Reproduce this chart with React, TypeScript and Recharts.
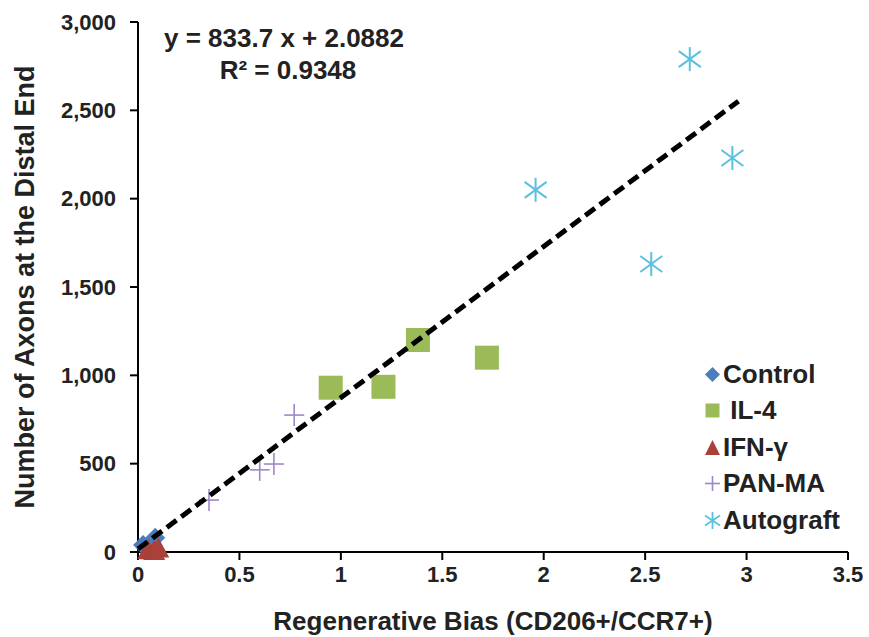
import { ScatterChart, Scatter, XAxis, YAxis } from 'recharts';

const xTicks = [0, 0.5, 1, 1.5, 2, 2.5, 3, 3.5];
const yTicks = [0, 500, 1000, 1500, 2000, 2500, 3000];

const control = [
    { x: 0.025, y: 40 },
    { x: 0.085, y: 80 },
];
const il4 = [
    { x: 0.95, y: 930 },
    { x: 1.21, y: 935 },
    { x: 1.38, y: 1200 },
    { x: 1.72, y: 1100 },
];
const ifng = [
    { x: 0.05, y: 10 },
    { x: 0.08, y: 5 },
    { x: 0.1, y: 20 },
];
const panma = [
    { x: 0.35, y: 294 },
    { x: 0.6, y: 465 },
    { x: 0.67, y: 498 },
    { x: 0.77, y: 775 },
];
const autograft = [
    { x: 1.96, y: 2050 },
    { x: 2.53, y: 1630 },
    { x: 2.72, y: 2790 },
    { x: 2.93, y: 2230 },
];
// trendline end points
const trend = [
    { x: 0, y: 17 },
    { x: 2.96, y: 2552 },
];

const FONT = '"Liberation Sans", Arial, sans-serif';
const TEXT = '#222';

const BLUE = '#4A7EBB';
const GREEN = '#9BBB59';
const RED = '#A9403A';
const PURPLE = '#9F86C9';
const AQUA = '#5BC0DE';

const Diamond = (p: any) => (
    <polygon
        points={`${p.cx},${p.cy - 10} ${p.cx + 10},${p.cy} ${p.cx},${p.cy + 10} ${p.cx - 10},${p.cy}`}
        fill={BLUE}
    />
);
const Square = (p: any) => <rect x={p.cx - 12} y={p.cy - 12} width={24} height={24} fill={GREEN} />;
const Triangle = (p: any) => (
    <polygon points={`${p.cx},${p.cy - 11} ${p.cx + 11},${p.cy + 9} ${p.cx - 11},${p.cy + 9}`} fill={RED} />
);
const Plus = (p: any) => (
    <g stroke={PURPLE} strokeWidth={1.6}>
        <line x1={p.cx - 10} y1={p.cy} x2={p.cx + 10} y2={p.cy} />
        <line x1={p.cx} y1={p.cy - 11} x2={p.cx} y2={p.cy + 11} />
    </g>
);
const Star = (p: any) => (
    <g stroke={AQUA} strokeWidth={2}>
        <line x1={p.cx} y1={p.cy - 12} x2={p.cx} y2={p.cy + 12} />
        <line x1={p.cx - 11} y1={p.cy - 8} x2={p.cx + 11} y2={p.cy + 8} />
        <line x1={p.cx - 11} y1={p.cy + 8} x2={p.cx + 11} y2={p.cy - 8} />
    </g>
);

const legendItems = [
    { name: 'Control', icon: <polygon points="8.5,1 16,8.5 8.5,16 1,8.5" fill={BLUE} /> },
    { name: '\u00a0IL-4', icon: <rect x={1.5} y={1.5} width={14} height={14} fill={GREEN} /> },
    { name: 'IFN-γ', icon: <polygon points="8.5,1 16,16 1,16" fill={RED} /> },
    {
        name: 'PAN-MA',
        icon: (
            <g stroke={PURPLE} strokeWidth={1.6}>
                <line x1={1} y1={8.5} x2={16} y2={8.5} />
                <line x1={8.5} y1={1} x2={8.5} y2={16} />
            </g>
        ),
    },
    {
        name: 'Autograft',
        icon: (
            <g stroke={AQUA} strokeWidth={1.8}>
                <line x1={8.5} y1={0} x2={8.5} y2={17} />
                <line x1={1} y1={3.5} x2={16} y2={13.5} />
                <line x1={1} y1={13.5} x2={16} y2={3.5} />
            </g>
        ),
    },
];

export default function App() {
    return (
        <div style={{ position: 'absolute', left: 0, top: 0, width: 869, height: 637, background: '#fff' }}>
            <ScatterChart width={869} height={637} margin={{ top: 22, right: 21, left: 0, bottom: 0 }}>
                <XAxis
                    type="number"
                    dataKey="x"
                    domain={[0, 3.5]}
                    ticks={xTicks}
                    height={85}
                    stroke="#000"
                    strokeWidth={2}
                    tickSize={8}
                    tickMargin={6}
                    tick={{ fill: TEXT, fontSize: 22, fontWeight: 'bold', fontFamily: FONT }}
                />
                <YAxis
                    type="number"
                    dataKey="y"
                    domain={[0, 3000]}
                    ticks={yTicks}
                    width={138}
                    stroke="#000"
                    strokeWidth={2}
                    tickSize={8}
                    tickMargin={14}
                    tickFormatter={(v) => v.toLocaleString('en-US')}
                    tick={{ fill: TEXT, fontSize: 22, fontWeight: 'bold', fontFamily: FONT }}
                />
                <Scatter data={control} shape={Diamond} isAnimationActive={false} />
                <Scatter data={il4} shape={Square} isAnimationActive={false} />
                <Scatter data={ifng} shape={Triangle} isAnimationActive={false} />
                <Scatter data={panma} shape={Plus} isAnimationActive={false} />
                <Scatter data={autograft} shape={Star} isAnimationActive={false} />
                <Scatter
                    data={trend}
                    line={{ stroke: '#000', strokeWidth: 5, strokeDasharray: '12 6' }}
                    shape={() => <g />}
                    isAnimationActive={false}
                />
                <text
                    x={25}
                    y={287}
                    transform="rotate(-90 25 287)"
                    textAnchor="middle"
                    dominantBaseline="central"
                    fill={TEXT}
                    fontSize={27}
                    fontWeight="bold"
                    fontFamily={FONT}
                >
                    Number of Axons at the Distal End
                </text>
                <text
                    x={493}
                    y={621}
                    textAnchor="middle"
                    dominantBaseline="central"
                    fill={TEXT}
                    fontSize={26}
                    fontWeight="bold"
                    fontFamily={FONT}
                >
                    Regenerative Bias (CD206+/CCR7+)
                </text>
                <text x={284} y={38} textAnchor="middle" dominantBaseline="central" fill={TEXT} fontSize={26} fontWeight="bold" fontFamily={FONT}>
                    y = 833.7 x + 2.0882
                </text>
                <text x={288} y={70} textAnchor="middle" dominantBaseline="central" fill={TEXT} fontSize={26} fontWeight="bold" fontFamily={FONT}>
                    R² = 0.9348
                </text>
            </ScatterChart>
            <div style={{ position: 'absolute', left: 704, top: 356, fontFamily: FONT }}>
                {legendItems.map((it) => (
                    <div key={it.name} style={{ display: 'flex', alignItems: 'center', height: 36.5 }}>
                        <svg width={17} height={17} style={{ marginRight: 2 }}>
                            {it.icon}
                        </svg>
                        <span style={{ fontSize: 26, fontWeight: 'bold', color: TEXT }}>{it.name}</span>
                    </div>
                ))}
            </div>
        </div>
    );
}
